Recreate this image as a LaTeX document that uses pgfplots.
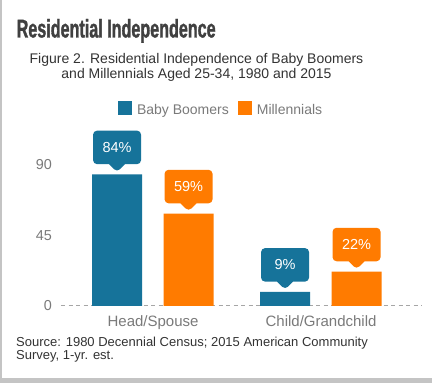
\documentclass[border=0pt]{standalone}
\usepackage{fontspec}
\setmainfont{Liberation Sans}
\newfontfamily\titlefont{Liberation Sans}[FakeStretch=0.63,FakeBold=1.2]
\usepackage{pgfplots}
\pgfplotsset{compat=1.18}
\usetikzlibrary{shapes.callouts}
\definecolor{bb}{HTML}{16739A}
\definecolor{mil}{HTML}{FF7B00}
\definecolor{tickgray}{HTML}{7A7A7A}
\definecolor{txt}{HTML}{333333}
\definecolor{titlegray}{HTML}{404040}
\definecolor{border}{HTML}{C4C4C4}
\pgfplotsset{sq legend/.style={legend image code/.code={\fill[##1] (0bp,-5bp) rectangle (14bp,9bp);}}}
\begin{document}
\begin{tikzpicture}
\fill[white] (0,0) rectangle (432bp,383bp);
\path[use as bounding box] (0,0) rectangle (432bp,383bp);
\fill[border] (0,0) rectangle (2bp,383bp);
\fill[border] (0,0) rectangle (432bp,5bp);
\node[anchor=base west, inner sep=0pt, text=titlegray, font=\titlefont\bfseries\fontsize{25.6bp}{28bp}\selectfont] at (16.5bp,345.5bp) {Residential Independence};
\node[anchor=base, inner sep=0pt, text=txt, font=\fontsize{14bp}{16bp}\selectfont] at (196.5bp,319.5bp) {Figure 2. Residential Independence of Baby Boomers};
\node[anchor=base, inner sep=0pt, text=txt, font=\fontsize{14bp}{16bp}\selectfont] at (196.5bp,304bp) {and Millennials Aged 25-34, 1980 and 2015};
\node[anchor=base west, inner sep=0pt, text=txt, font=\fontsize{13bp}{15bp}\selectfont] at (16bp,36.5bp) {Source: 1980 Decennial Census; 2015 American Community};
\node[anchor=base west, inner sep=0pt, text=txt, font=\fontsize{13bp}{15bp}\selectfont] at (16bp,23.5bp) {Survey, 1-yr. est.};
\begin{axis}[
  at={(61bp,77bp)}, anchor=south west,
  width=361bp, height=148.8bp, scale only axis,
  xmin=-0.548, xmax=1.601, ymin=0, ymax=95,
  enlargelimits=false,
  ybar, bar width=50bp,
  axis lines*=left, separate axis lines,
  x axis line style={draw=black!35, dash pattern=on 4bp off 3.5bp, line width=1bp},
  y axis line style={draw=none},
  major tick length=0pt,
  xtick={0,1}, xticklabels={Head/Spouse,Child/Grandchild},
  ytick={0,45,90},
  /pgf/number format/assume math mode=true,
  yticklabel style={anchor=east, inner sep=0pt, xshift=-9bp, text=tickgray, font=\fontsize{14.4bp}{16bp}\selectfont},
  xticklabel style={anchor=north, inner sep=0pt, yshift=-9.5bp, text=tickgray, font=\fontsize{15bp}{17bp}\selectfont},
  clip=false,
  nodes near coords={\pgfmathprintnumber{\pgfplotspointmeta}\%},
  every node near coord/.append style={rectangle callout, callout relative pointer={(0bp,-8bp)}, callout pointer width=16bp, minimum width=48bp, minimum height=33.5bp, inner sep=0pt, rounded corners=4bp, anchor=pointer, yshift=2bp, text=white, font=\fontsize{14.5bp}{16bp}\selectfont},
  legend columns=-1,
  legend style={at={(axis description cs:0.158,1.327)}, anchor=west, draw=none, fill=none, inner sep=0pt, outer sep=0pt, font=\fontsize{14bp}{16bp}\selectfont, text=tickgray, nodes={inner sep=0pt}, /tikz/every even column/.append style={column sep=9bp}, /tikz/every odd column/.append style={column sep=5bp}},
]
\addplot[fill=bb, draw=none, bar shift=-36bp, sq legend, every node near coord/.append style={fill=bb}] coordinates {(0,84) (1,9)};
\addplot[fill=mil, draw=none, bar shift=35.5bp, sq legend, every node near coord/.append style={fill=mil}] coordinates {(0,59) (1,22)};
\legend{Baby Boomers, Millennials}
\end{axis}
\end{tikzpicture}
\end{document}
